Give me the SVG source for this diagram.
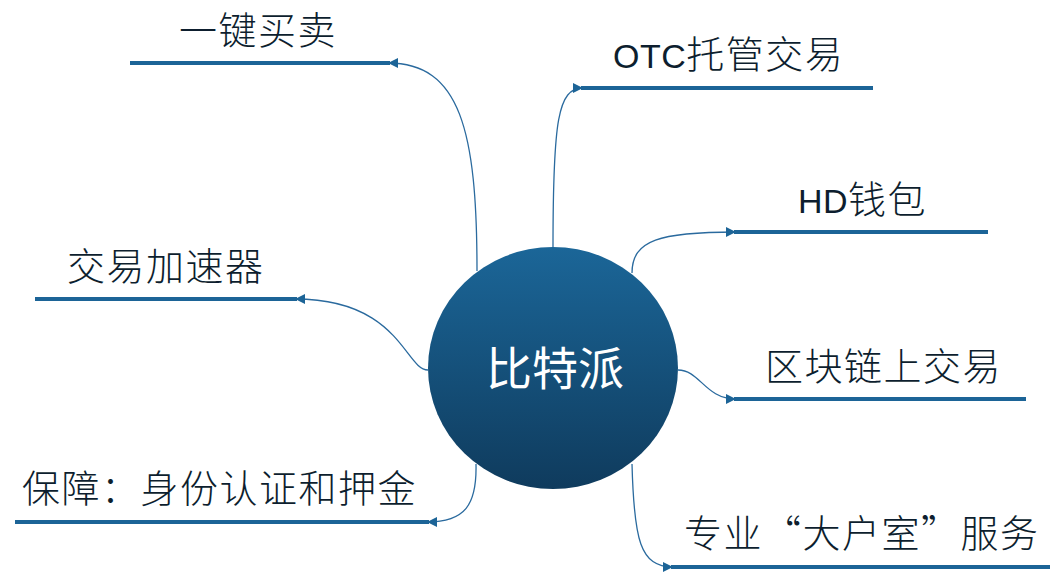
<svg xmlns="http://www.w3.org/2000/svg" width="1063" height="573" viewBox="0 0 1063 573">
<style>
.lbl{font-family:"Liberation Sans","Noto Sans CJK SC",sans-serif;font-size:38px;font-weight:300;fill:#0d1e2e;letter-spacing:1.5px}
.cjk{font-family:"Noto Sans CJK SC",sans-serif}
.lat{font-size:34px;letter-spacing:0.5px}
.bar{stroke:#1c6497;stroke-width:4;fill:none}
.con{stroke:#2a6a9e;stroke-width:1.3;fill:none;marker-end:url(#arr)}
.title{font-family:"Noto Sans CJK SC",sans-serif;font-size:46px;fill:#ffffff;text-anchor:middle}
</style>
<defs>
<linearGradient id="g" x1="0" y1="0" x2="0" y2="1">
<stop offset="0" stop-color="#1b6698"/>
<stop offset="1" stop-color="#0f3b5d"/>
</linearGradient>
<marker id="arr" viewBox="0 0 10 10" refX="10" refY="5" markerWidth="10" markerHeight="10" markerUnits="userSpaceOnUse" orient="auto">
<path d="M0,0 L10,5 L0,10 z" fill="#1c6497"/>
</marker>
</defs>
<rect width="1063" height="573" fill="#ffffff"/>
<g id="connectors">
<path class="con" d="M477,271 C477,130 460,63 388,63"/>
<path class="con" d="M553,247 C553,120 558,88 583,88"/>
<path class="con" d="M632,273 C632,240 660,232 736,232"/>
<path class="con" d="M678,370 C700,370 705,399 736,399"/>
<path class="con" d="M632,464 C634,540 640,567 673,567"/>
<path class="con" d="M428,370 C405,370 400,299 295,299"/>
<path class="con" d="M476,464 C477,505 465,522 427,522"/>
</g>
<g id="center">
<ellipse cx="553" cy="368" rx="125" ry="121" fill="url(#g)"/>
<text class="title" x="555" y="385">比特派</text>
</g>
<g id="n1">
<line class="bar" x1="130" y1="63" x2="390" y2="63"/>
<text class="lbl" x="179" y="44">一键买卖</text>
</g>
<g id="n2">
<line class="bar" x1="581" y1="88" x2="873" y2="88"/>
<text class="lbl" x="613" y="68"><tspan class="lat">OTC</tspan>托管交易</text>
</g>
<g id="n3">
<line class="bar" x1="734" y1="232" x2="988" y2="232"/>
<text class="lbl" x="798" y="213"><tspan class="lat">HD</tspan>钱包</text>
</g>
<g id="n4">
<line class="bar" x1="734" y1="399" x2="1026" y2="399"/>
<text class="lbl" x="765" y="380">区块链上交易</text>
</g>
<g id="n5">
<line class="bar" x1="671" y1="567" x2="1050" y2="567"/>
<text class="lbl cjk" x="684" y="547">专业“大户室”服务</text>
</g>
<g id="n6">
<line class="bar" x1="35" y1="299" x2="297" y2="299"/>
<text class="lbl" x="67" y="280">交易加速器</text>
</g>
<g id="n7">
<line class="bar" x1="15" y1="522" x2="429" y2="522"/>
<text class="lbl" x="22" y="502">保障：身份认证和押金</text>
</g>
</svg>
